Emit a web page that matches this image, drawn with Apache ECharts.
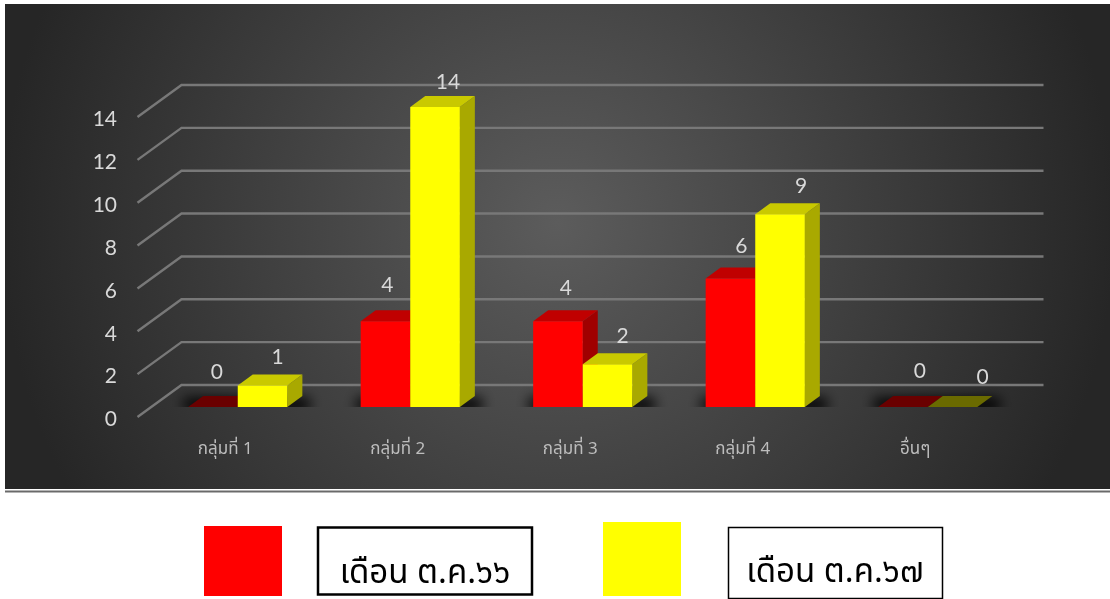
<!DOCTYPE html>
<html>
<head>
<meta charset="utf-8">
<style>html,body{margin:0;padding:0;background:#fff}#c{width:1110px;height:599px}</style>
<script src="https://cdn.jsdelivr.net/npm/echarts@6/dist/echarts.min.js"></script>
</head>
<body>
<div id="c"></div>
<script>
const categories = ['กลุ่มที่ 1', 'กลุ่มที่ 2', 'กลุ่มที่ 3', 'กลุ่มที่ 4', 'อื่นๆ'];
const seriesOct66 = [0, 4, 4, 6, 0];
const seriesOct67 = [1, 14, 2, 9, 0];
const nameOct66 = 'เดือน ต.ค.๖๖';
const nameOct67 = 'เดือน ต.ค.๖๗';
const yTicks = [0, 2, 4, 6, 8, 10, 12, 14];

// ---- styling / pseudo-3D layout ----
const FONT = 'Lato, "Open Sans", "Noto Sans", sans-serif';
const THAI = '"Noto Sans Thai", "Noto Sans", "DejaVu Sans", sans-serif';
const DX = 15, DY = 11, BAR_RATIO = 0.2875;
const RED = {front: '#ff0000', top: '#c00000', side: '#a00000', zero: '#6a0000'};
const YEL = {front: '#ffff00', top: '#c9c900', side: '#a9a900', zero: '#6a6a00'};
const LABEL_NUDGE = {
  red: [[4, -24], [2, -25], [8, -22], [11, -21], [17, -25]],
  yel: [[15, -17], [13, -14], [15, -17], [21, -17], [30, -19]]
};

function barItem(col, side, nudge) {
  return function (params, api) {
    const v = api.value(1), i = api.value(0);
    const base = api.coord([i, 0]), top = api.coord([i, v]);
    const w = api.size([1, 0])[0] * BAR_RATIO;
    const x0 = side < 0 ? base[0] - w : base[0], x1 = x0 + w;
    const yb = base[1], yt = top[1];
    const kids = [];
    if (v > 0) {
      kids.push({type: 'polygon', shape: {points: [[x1, yb], [x1 + DX, yb - DY], [x1 + DX, yt - DY], [x1, yt]]}, style: {fill: col.side}});
      kids.push({type: 'polygon', shape: {points: [[x0, yt], [x0 + DX, yt - DY], [x1 + DX, yt - DY], [x1, yt]]}, style: {fill: col.top}});
      kids.push({type: 'rect', shape: {x: x0, y: yt, width: w, height: yb - yt}, style: {fill: col.front}});
    } else {
      kids.push({type: 'polygon', shape: {points: [[x0, yb], [x0 + DX, yb - DY], [x1 + DX, yb - DY], [x1, yb]]}, style: {fill: col.zero}});
    }
    const n = nudge[params.dataIndex];
    kids.push({type: 'text', style: {text: String(v), x: (x0 + x1) / 2 + n[0], y: yt - DY + n[1], font: '21px ' + FONT, fill: '#d9d9d9', align: 'center', verticalAlign: 'middle'}});
    return {type: 'group', children: kids};
  };
}

// Soft floor shadow: the caster sits off-canvas so that only its blur is painted.
function floorShadow(params, api) {
  const c = api.coord([api.value(0), 0]);
  const far = 3000;
  return {type: 'group',
    clipPath: {type: 'rect', shape: {x: c[0] - 80, y: c[1] - 30, width: 180, height: 30}},
    children: [{type: 'rect', shape: {x: c[0] - 54 - far, y: c[1] - 9, width: 126, height: 13},
      style: {fill: '#000', shadowBlur: 13, shadowOffsetX: far, shadowOffsetY: 0, shadowColor: '#000'}}]};
}

function gridLine(params, api) {
  const y = api.coord([0, api.value(1)])[1];
  const rect = params.coordSys;
  return {type: 'polyline', shape: {points: [[rect.x - 14, y + 10], [rect.x + 30, y - 22], [rect.x + 892, y - 22]]},
    style: {stroke: '#787878', lineWidth: 2.4, fill: 'none'}};
}

const chart = echarts.init(document.getElementById('c'), null, {renderer: 'canvas'});
chart.setOption({
  animation: false,
  backgroundColor: '#ffffff',
  tooltip: {show: false},
  grid: [
    {left: 151.5, top: 107, width: 862.5, height: 300},   // plane of the bars
    {left: 139, top: 119.5, width: 862.5, height: 300}    // front plane holding the axis labels
  ],
  xAxis: [
    {gridIndex: 0, type: 'category', data: categories, show: false},
    {gridIndex: 1, type: 'category', data: categories, axisLine: {show: false}, axisTick: {show: false},
      axisLabel: {color: '#bdbdbd', fontSize: 17, fontFamily: THAI, margin: 23}}
  ],
  yAxis: [
    {gridIndex: 0, type: 'value', min: 0, max: 14, interval: 2, show: false},
    {gridIndex: 1, type: 'value', min: 0, max: 14, interval: 2, splitLine: {show: false},
      axisLine: {show: false}, axisTick: {show: false},
      axisLabel: {color: '#d9d9d9', fontSize: 21, fontFamily: FONT, margin: 22}}
  ],
  graphic: [
    {type: 'rect', z: -10, silent: true, shape: {x: 5, y: 4, width: 1105, height: 485},
      style: {fill: {type: 'radial', x: 0.5, y: 0.45, r: 1.15, colorStops: [{offset: 0, color: '#5c5c5c'}, {offset: 1, color: '#262626'}]}}},
    {type: 'rect', z: -10, silent: true, shape: {x: 5, y: 490.5, width: 1105, height: 2}, style: {fill: '#6a6a6a'}},
    {type: 'rect', silent: true, shape: {x: 204, y: 526, width: 78, height: 70}, style: {fill: '#ff0000'}},
    {type: 'rect', silent: true, shape: {x: 318, y: 527.5, width: 214, height: 67}, style: {fill: '#fff', stroke: '#000', lineWidth: 2.5}},
    {type: 'text', silent: true, style: {text: nameOct66, x: 425, y: 576, align: 'center', verticalAlign: 'middle', font: '33px ' + THAI, fill: '#000'}},
    {type: 'rect', silent: true, shape: {x: 603, y: 522, width: 78, height: 74}, style: {fill: '#ffff00'}},
    {type: 'rect', silent: true, shape: {x: 728.5, y: 527.5, width: 214, height: 71}, style: {fill: '#fff', stroke: '#000', lineWidth: 1.5}},
    {type: 'text', silent: true, style: {text: nameOct67, x: 835, y: 575, align: 'center', verticalAlign: 'middle', font: '33px ' + THAI, fill: '#000'}}
  ],
  series: [
    {type: 'custom', name: 'grid', z: 1, silent: true, xAxisIndex: 0, yAxisIndex: 0, renderItem: gridLine, data: yTicks.map(v => [0, v])},
    {type: 'custom', name: 'shadow', z: 2, silent: true, xAxisIndex: 0, yAxisIndex: 0, renderItem: floorShadow, data: categories.map((c, i) => [i, 0])},
    {type: 'custom', name: nameOct66, z: 3, silent: true, xAxisIndex: 0, yAxisIndex: 0, renderItem: barItem(RED, -1, LABEL_NUDGE.red), data: seriesOct66.map((v, i) => [i, v])},
    {type: 'custom', name: nameOct67, z: 4, silent: true, xAxisIndex: 0, yAxisIndex: 0, renderItem: barItem(YEL, 1, LABEL_NUDGE.yel), data: seriesOct67.map((v, i) => [i, v])}
  ]
});
</script>
</body>
</html>
